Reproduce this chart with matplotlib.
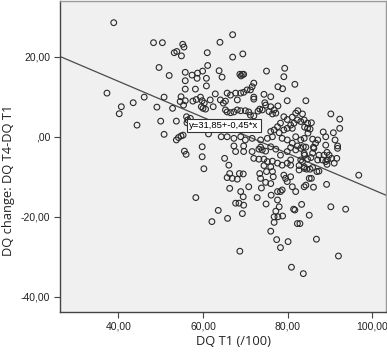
import matplotlib
matplotlib.use("Agg")
import matplotlib.pyplot as plt
import numpy as np

# DQ T1 (/100) values
dq_t1 = [
    38.9, 37.3, 43.5, 40.7, 40.2, 44.4,
    48.3, 50.4, 55.2, 55.5, 53.2, 53.8, 54.9, 61.0, 49.6, 52.0, 55.8, 57.4, 58.7, 59.9,
    61.1, 63.8, 55.8, 58.6, 60.8, 64.5, 55.8, 58.2, 60.8, 46.1, 50.8, 54.8, 55.8, 54.6,
    57.6, 58.4, 59.4, 59.8, 60.3, 61.7, 62.9, 64.1, 49.1, 52.8, 55.4, 59.6, 60.0, 60.6,
    62.4, 64.8, 50.0, 53.7, 56.1, 56.4, 57.0, 56.2, 50.8, 53.7, 54.2, 54.8, 55.3, 61.3,
    64.3, 65.3, 64.0, 67.0,
    67.0, 69.4, 75.0, 68.7, 69.3, 69.6, 69.0, 79.3, 79.1, 77.7, 78.8, 81.7, 72.0, 71.6,
    71.2, 70.4, 69.6, 68.9, 67.7, 66.5, 65.7, 68.1, 72.0, 72.0, 74.4, 76.0, 74.6, 74.8,
    76.0, 76.8, 77.2, 76.4, 75.6, 74.0, 73.4, 73.0, 79.9, 84.3, 65.3, 65.7, 66.5, 67.3,
    68.1, 68.9, 70.0, 70.8, 71.2, 72.0, 79.1, 79.9, 81.1, 81.9, 82.4, 83.5, 83.9, 83.1,
    82.3, 78.3, 77.6, 76.8, 76.0, 78.0, 79.1, 79.9, 81.1, 81.5, 80.7, 65.7, 67.3, 68.9,
    70.0, 71.6, 73.6, 75.2, 76.4, 78.7, 79.9, 81.1, 82.3, 83.7, 83.1, 81.9, 67.3, 69.6,
    73.6, 76.0, 77.7,
    90.2, 92.3, 92.3, 90.8, 88.4, 89.0, 91.2, 91.8, 89.0, 84.0, 84.7, 85.3, 85.6, 84.8,
    83.9, 85.9, 87.1, 86.6, 86.1, 84.3, 84.7,
    59.8, 55.6, 56.0, 59.8, 60.2, 58.3, 63.6, 62.1,
    65.1, 66.1, 65.7, 66.9, 66.3, 68.1, 68.6, 69.5, 66.3, 68.9, 69.5, 70.8, 67.7, 68.5,
    69.6, 69.3, 65.8, 72.8, 73.8, 74.8, 76.0, 73.6, 73.4, 75.0, 76.4, 76.6, 76.1, 77.6,
    78.3, 78.7, 77.6, 78.0, 77.2, 76.8, 77.7, 76.8, 78.8, 81.4, 81.7, 83.3, 82.3, 82.9,
    76.0, 77.4, 80.1, 78.3, 68.7, 80.9, 83.7,
    67.7, 69.6, 71.6, 73.2, 74.0, 74.8, 77.2, 78.3, 79.9, 80.7, 81.9, 83.1, 83.9, 72.0,
    73.2, 74.4, 75.2, 76.4, 77.6, 78.7, 79.9, 80.7, 82.7, 83.9, 82.7, 74.4, 76.0, 80.7,
    83.1, 79.1, 79.5, 80.7, 81.1, 81.9, 79.9, 74.9,
    85.1, 86.8, 89.2, 90.2, 92.0, 93.7, 96.8,
    84.0, 84.7, 85.5, 85.9, 86.2, 87.4, 88.6, 89.3, 89.8, 90.4, 91.0, 91.6, 91.8, 89.0,
    89.3, 89.4, 88.2, 87.1, 83.5, 83.9, 84.5, 85.3, 85.9, 86.9, 87.4, 85.1, 85.6, 84.3,
    83.9, 86.1,
]

# DQ change: DQ T4 - DQ T1
dq_change = [
    28.5, 10.9, 8.5, 7.5, 5.75, 2.9,
    23.5, 23.5, 23.1, 22.4, 21.0, 21.3, 20.2, 21.0, 17.3, 15.3, 16.1, 15.4, 15.9, 16.4,
    17.8, 16.5, 14.0, 14.6, 14.6, 14.9, 11.9, 11.9, 12.7, 9.9, 9.9, 10.0, 9.0, 8.8,
    8.9, 9.3, 9.9, 9.0, 8.4, 9.2, 10.7, 9.2, 7.4, 7.1, 7.9, 7.5, 7.1, 6.9,
    7.5, 8.4, 3.9, 3.9, 5.0, 4.2, 4.6, 3.5, 0.6, -0.8, -0.2, 0.2, 0.4, 0.7,
    0.0, 8.9, 23.6, 25.5,
    19.9, 20.7, 16.4, 15.6, 15.6, 15.6, 15.2, 17.1, 15.0, 12.5, 12.0, 13.1, 13.4, 12.5,
    11.7, 11.7, 11.1, 10.9, 10.9, 10.4, 10.9, 9.2, 9.9, 9.4, 10.6, 10.0, 8.5, 7.9,
    7.5, 6.7, 5.9, 5.7, 6.3, 6.7, 6.9, 6.4, 9.0, 9.0, 6.7, 6.2, 6.0, 6.2,
    6.7, 6.5, 6.5, 6.2, 5.4, 5.2, 5.0, 4.3, 4.9, 5.9, 6.5, 5.7, 4.2, 3.8,
    4.2, 3.4, 2.5, 1.7, 1.3, 1.0, 1.7, 2.1, 2.1, 3.4, 2.9, 0.0, -0.4, 0.0,
    -0.8, -0.4, -0.8, -0.4, 0.0, -0.4, -0.8, -1.6, -2.3, -2.5, -0.8, 0.0, -2.3, -2.3,
    -2.6, -2.5, 7.7,
    5.7, 4.4, 2.1, 1.0, 1.2, 0.0, -0.8, -2.3, -2.1, 2.4, 2.1, 1.9, 3.5, 0.9,
    -0.4, -0.6, -0.8, -1.6, -2.6, -2.6, 3.4,
    -2.5, -3.6, -4.4, -5.0, -8.0, -15.2, -18.4, -21.2,
    -5.4, -7.1, -10.2, -10.4, -9.2, -10.6, -9.2, -9.3, -12.9, -13.7, -15.0, -12.5, -16.6, -16.6,
    -17.1, -19.2, -20.4, -15.2, -12.8, -11.4, -11.7, -10.4, -9.2, -8.7, -8.7, -10.0, -14.6, -13.7,
    -13.7, -13.3, -15.8, -17.5, -18.6, -20.0, -20.0, -21.4, -19.8, -18.1, -18.3, -16.9, -21.7, -21.7,
    -23.6, -25.7, -26.2, -27.7, -28.6, -32.6, -34.2,
    -3.7, -3.7, -3.7, -3.1, -3.3, -3.6, -3.1, -4.6, -3.7, -2.7, -3.3, -2.9, -4.2, -5.4,
    -5.6, -5.6, -6.2, -6.1, -6.6, -7.1, -6.6, -7.1, -7.2, -7.9, -8.3, -7.2, -7.5, -5.8,
    -5.8, -9.6, -10.4, -10.0, -12.5, -13.7, -11.2, -16.8,
    -19.6, -25.6, -11.9, -17.5, -29.8, -18.1, -9.6,
    -4.6, -5.6, -5.2, -4.1, -2.9, -4.6, -4.6, -3.9, -4.6, -5.4, -6.6, -5.4, -2.9, -6.2,
    -6.9, -5.8, -5.8, -5.8, -6.2, -7.5, -8.1, -8.1, -7.7, -8.7, -8.6, -10.4, -10.4, -12.1,
    -12.5, -12.6,
]

# Fit line
intercept = 31.85
slope = -0.45
fit_label = "y=31,85+-0,45*x"

x_ticks = [40, 60, 80, 100]
x_tick_labels = ["40,00", "60,00", "80,00", "100,00"]
y_ticks = [-40, -20, 0, 20]
y_tick_labels = ["-40,00", "-20,00", ",00", "20,00"]

plt.rcParams['font.family'] = ['Liberation Sans', 'DejaVu Sans']

fig = plt.figure(figsize=(3.87, 3.53), dpi=100)
ax = fig.add_axes([0.155, 0.116, 0.842, 0.881])
ax.set_facecolor('#f0f0f0')

ax.set_xlim(26.2, 103.2)
ax.set_ylim(-43.8, 33.9)

ax.scatter(dq_t1, dq_change, s=17, facecolors='none', edgecolors='#2a2a2a',
           linewidths=0.8, zorder=3)

xl = np.array(ax.get_xlim())
ax.plot(xl, intercept + slope * xl, color='#4a4a4a', lw=0.9, zorder=2)

ax.text(64.95, 2.8, fit_label, fontsize=6.8, ha='center', va='center', zorder=5,
        bbox=dict(boxstyle='square,pad=0.25', facecolor='white', edgecolor='#333333', lw=0.8))

ax.set_xticks(x_ticks)
ax.set_xticklabels(x_tick_labels, fontsize=7.5, color='#222222')
ax.set_yticks(y_ticks)
ax.set_yticklabels(y_tick_labels, fontsize=7.5, color='#222222')
ax.tick_params(axis='both', direction='out', length=4, width=0.8, color='#444444', pad=3)

for side in ['left', 'bottom']:
    ax.spines[side].set_color('#444444')
    ax.spines[side].set_linewidth(1.0)
for side in ['top', 'right']:
    ax.spines[side].set_color('#999999')
    ax.spines[side].set_linewidth(1.0)

ax.set_xlabel("DQ T1 (/100)", fontsize=9.3, family=['Open Sans', 'DejaVu Sans'], color='#222222')
ax.set_ylabel("DQ change: DQ T4-DQ T1", fontsize=9.3, family=['Open Sans', 'DejaVu Sans'], color='#222222')
ax.xaxis.set_label_coords(0.534, -0.074)
ax.yaxis.set_label_coords(-0.138, 0.424)

fig.savefig("out.png", dpi=100, facecolor='white')
